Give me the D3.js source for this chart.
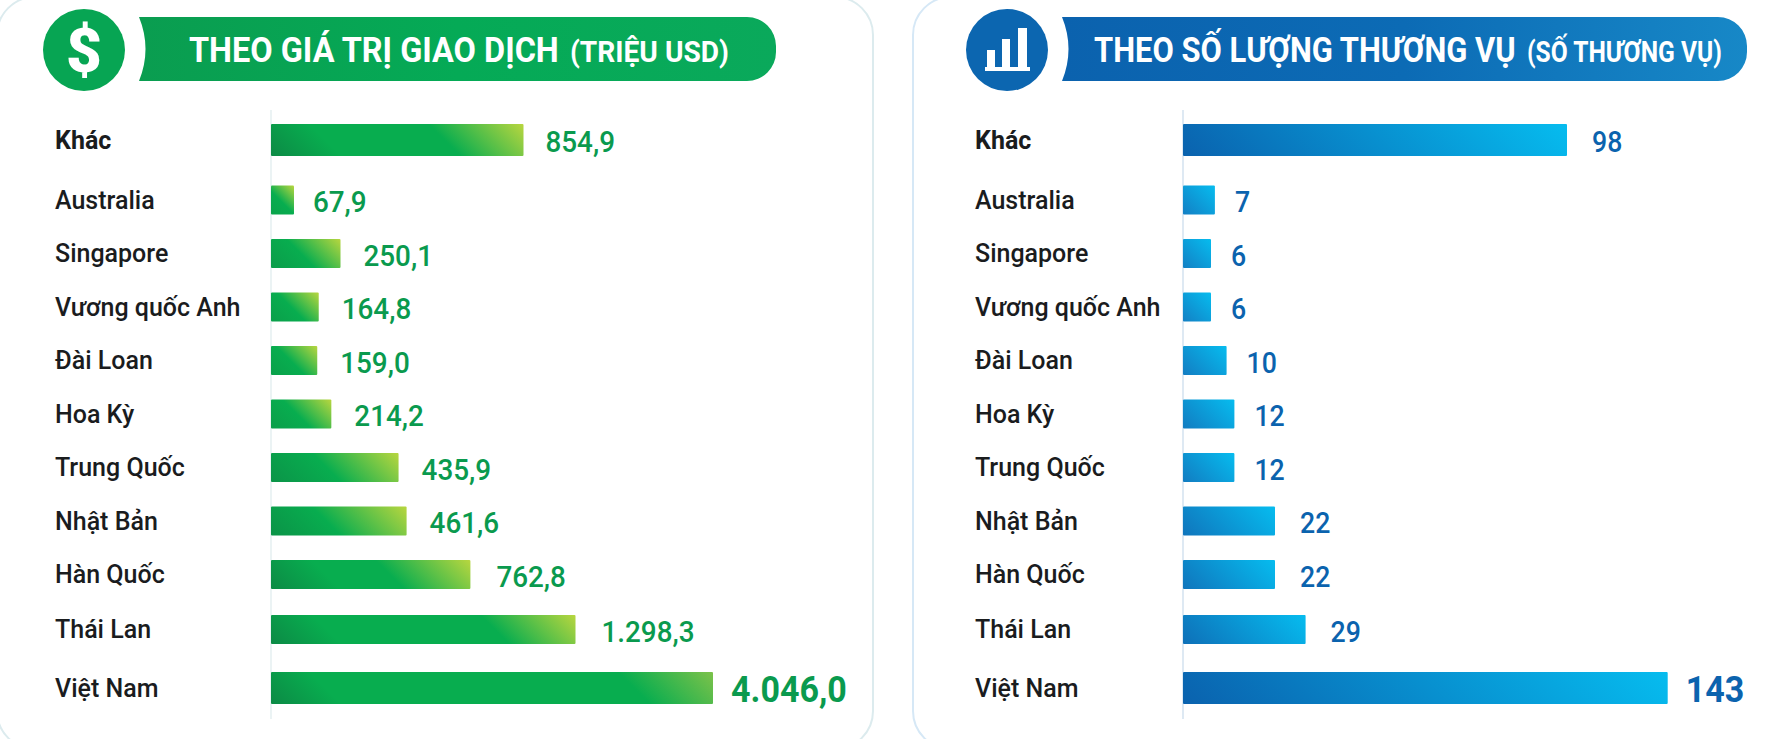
<!DOCTYPE html>
<html><head><meta charset="utf-8">
<script src="https://cdn.jsdelivr.net/npm/d3@7"></script>
<style>html,body{margin:0;padding:0;background:#fff;overflow:hidden}svg{display:block}text{font-family:Roboto,sans-serif}</style>
</head><body><svg id="c" width="1772" height="739"></svg>
<script>
const categories = ["Khác","Australia","Singapore","Vương quốc Anh","Đài Loan","Hoa Kỳ","Trung Quốc","Nhật Bản","Hàn Quốc","Thái Lan","Việt Nam"];
const dealValue = [854.9,67.9,250.1,164.8,159.0,214.2,435.9,461.6,762.8,1298.3,4046.0];
const dealCount = [98,7,6,6,10,12,12,22,22,29,143];
const titleValue = ["THEO GIÁ TRỊ GIAO DỊCH","(TRIỆU USD)"];
const titleCount = ["THEO SỐ LƯỢNG THƯƠNG VỤ","(SỐ THƯƠNG VỤ)"];

const fmtValue = v => { const [a,b] = v.toFixed(1).split("."); return a.replace(/\B(?=(\d{3})+$)/g,".")+","+b; };
const svg = d3.select("#c");
const defs = svg.append("defs");
const rowY = d3.scaleLinear().domain([0,1,8,9,10]).range([140,200,574.5,629.5,688]);
const y = d3.scaleOrdinal(categories, categories.map((_,i)=>rowY(i)));

// The source chart is not drawn to a linear scale: its bar lengths follow these breakpoints.
const xValue = d3.scaleLinear().domain([0,67.9,250.1,461.6,762.8,854.9,1298.3,4046]).range([0,23,69.5,135.6,199.4,252.5,304.5,442]);
const xCount = d3.scaleLinear().domain([0,6,12,22,29,98,143]).range([0,28,51.4,92,122.6,384,484.7]);

// squeeze a text horizontally to a wanted width, keeping its real box
function fitWidth(sel,x,baseY,width){
  const nat = sel.node().getComputedTextLength();
  sel.attr("transform",`translate(${x},${baseY}) scale(${width/nat},1)`);
}

const panels = [
 {id:"g",card:[-3,-3,876,752],cardCol:"#dcebee",axisX:271,labelX:55,values:dealValue,x:xValue,fmt:fmtValue,
  valCol:"#0a9a4e",lineCol:"#e4eff0",title:titleValue,
  banner:[139,776],textA:[189,370],textB:[570,159],cx:84,
  bannerStops:["#0a9d50","#05aa56","#0aa95b"],circle:"#07a553",
  dark:"#0c8a45",mid:"#08ad4f",light:"#b8d63f",smallStart:"#0aa64c",hold:true,
  gap:(w,i)=>i===0?22:(w<30?19:(w>190?26:23)),squeeze:.96,squeezeBig:.92},
 {id:"b",card:[913,-3,900,752],cardCol:"#d6e8f6",axisX:1183,labelX:975,values:dealCount,x:xCount,fmt:d=>String(d),
  valCol:"#0b63ae",lineCol:"#d3e2ef",title:titleCount,
  banner:[1062,1747],textA:[1094,422],textB:[1527,195],cx:1007,
  bannerStops:["#0b62ae","#0c6bb5","#1788c7"],circle:"#0c66b0",
  dark:"#0a62ae",mid:"#0592d6",light:"#06bcef",smallStart:"#1585c8",hold:false,
  gap:(w,i)=>w<60?20:25,squeeze:.92,squeezeBig:.92}
];

panels.forEach(p=>{
  const g = svg.append("g");
  g.append("rect").attr("x",p.card[0]).attr("y",p.card[1]).attr("width",p.card[2]).attr("height",p.card[3])
    .attr("rx",38).attr("fill","#fff").attr("stroke",p.cardCol).attr("stroke-width",2);

  // header
  const [bl,br] = p.banner, top=17, bot=81, r=29;
  const bg = defs.append("linearGradient").attr("id","ban"+p.id);
  p.bannerStops.forEach((c,i)=>bg.append("stop").attr("offset",i/2).attr("stop-color",c));
  g.append("path").attr("fill",`url(#ban${p.id})`)
    .attr("d",`M${bl},${top}L${br-r},${top}A${r},${r} 0 0 1 ${br},${top+r}L${br},${bot-r}A${r},${r} 0 0 1 ${br-r},${bot}L${bl},${bot}Q${bl+13},${(top+bot)/2} ${bl},${top}Z`);
  g.append("circle").attr("cx",p.cx).attr("cy",50).attr("r",41).attr("fill",p.circle);
  const t1 = g.append("text").attr("fill","#fff").attr("font-size",36).attr("font-weight",700).text(p.title[0]);
  fitWidth(t1,p.textA[0],62,p.textA[1]);
  const t2 = g.append("text").attr("fill","#fff").attr("font-size",29).attr("font-weight",700).text(p.title[1]);
  fitWidth(t2,p.textB[0],62,p.textB[1]);
  if(p.id==="g"){
    g.append("text").attr("x",p.cx).attr("y",72).attr("text-anchor","middle").attr("fill","#fff")
      .attr("font-size",62).attr("font-weight",900).text("$");
  } else {
    const ic = g.append("g").attr("fill","#fff");
    ic.selectAll("rect.i").data([[987,50,8],[1002,39,8],[1018,28,9]]).join("rect")
      .attr("x",d=>d[0]).attr("y",d=>d[1]).attr("width",d=>d[2]).attr("height",d=>68-d[1]);
    ic.append("rect").attr("x",985).attr("y",67).attr("width",45).attr("height",4);
  }

  // vertical baseline
  g.append("line").attr("x1",p.axisX).attr("x2",p.axisX).attr("y1",110).attr("y2",719).attr("stroke",p.lineCol).attr("stroke-width",1.5);

  // category axis
  const ax = g.append("g").attr("transform",`translate(${p.axisX},0)`).call(d3.axisLeft(y).tickSize(0));
  ax.select(".domain").remove();
  ax.selectAll("text").attr("x",p.labelX-p.axisX).attr("text-anchor","start").attr("dy","0.32em")
    .attr("transform","translate(0,0)")
    .style("font-family","Roboto,sans-serif").attr("font-size",25).attr("font-weight",d=>d==="Khác"?700:500).attr("fill","#1a1c1e");

  const rows = categories.map((c,i)=>({c,i,v:p.values[i]}));
  const emph = d=>d.i===0||d.i===10;
  const h = d=>emph(d)?32:29;
  rows.forEach(d=>{
    const w=p.x(d.v), hh=h(d), L=(w+hh)/2, by=y(d.c)+hh/2;
    const grad=defs.append("linearGradient").attr("id",`b${p.id}${d.i}`).attr("gradientUnits","userSpaceOnUse")
      .attr("x1",p.axisX).attr("y1",by).attr("x2",p.axisX+L).attr("y2",by-L);
    const len=w+hh;
    const start=d3.interpolateRgb(p.smallStart,p.dark)(Math.min(1,w/200));
    grad.append("stop").attr("offset",0).attr("stop-color",start);
    if(p.hold){
      const a=Math.min(.45,70/len), b=Math.max(a,1-95/len);
      grad.append("stop").attr("offset",a).attr("stop-color",p.mid);
      grad.append("stop").attr("offset",b).attr("stop-color",p.mid);
      grad.append("stop").attr("offset",1).attr("stop-color",d.i===10?"#7cc24a":p.light);
    } else {
      grad.append("stop").attr("offset",1).attr("stop-color",p.light);
    }
  });
  g.selectAll("rect.bar").data(rows).join("rect").attr("class","bar")
    .attr("x",p.axisX).attr("y",d=>y(d.c)-h(d)/2).attr("width",d=>p.x(d.v)).attr("height",h).attr("rx",1)
    .attr("fill",d=>`url(#b${p.id}${d.i})`);
  g.selectAll("text.val").data(rows).join("text").attr("class","val")
    .attr("fill",p.valCol).attr("font-size",d=>d.i===10?37:29).attr("font-weight",d=>d.i===10?700:500)
    .text(d=>p.fmt(d.v))
    .each(function(d){
      const w=p.x(d.v), s=d3.select(this), nat=this.getComputedTextLength();
      fitWidth(s,p.axisX+w+(d.i===10?18:p.gap(w,d.i)),y(d.c)+(d.i===10?14:12),nat*(d.i===10?p.squeezeBig:p.squeeze));
    });
});
</script></body></html>
